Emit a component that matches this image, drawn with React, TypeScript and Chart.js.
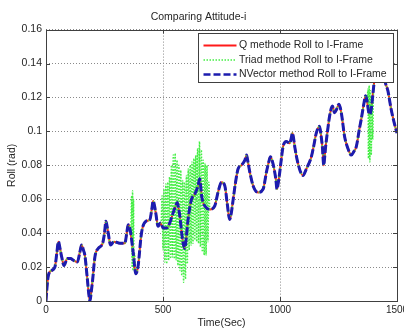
import React, { useEffect, useRef } from 'react';
import { Chart, registerables } from 'chart.js';

Chart.register(...registerables);

const chartTitle = 'Comparing Attitude-i';
const xAxisTitle = 'Time(Sec)';
const yAxisTitle = 'Roll (rad)';
const seriesNames = [
  'Q methode Roll to I-Frame',
  'Triad method Roll to I-Frame',
  'NVector method Roll to I-Frame',
];

const xTicks = [0, 500, 1000, 1500];
const xTickLabels = ['0', '500', '1000', '1500'];
const yTicks = [0, 0.02, 0.04, 0.06, 0.08, 0.1, 0.12, 0.14, 0.16];
const yTickLabels = ['0', '0.02', '0.04', '0.06', '0.08', '0.1', '0.12', '0.14', '0.16'];

// [time (s), roll (rad)] – Q method (NVector overlaps it)
const qMethodPoints: number[][] = [
  [0, 0.0], [3, 0.006], [10, 0.015], [24, 0.018], [38, 0.02], [46, 0.028], [53, 0.035],
  [60, 0.031], [67, 0.026], [77, 0.021], [91, 0.025], [105, 0.025], [117, 0.024], [134, 0.023],
  [145, 0.029], [152, 0.033], [160, 0.03], [166, 0.027], [176, 0.014], [183, 0.004], [188, 0.0],
  [193, 0.005], [199, 0.012], [209, 0.026], [223, 0.031], [242, 0.034], [250, 0.04], [256, 0.047],
  [261, 0.044], [266, 0.04], [276, 0.033], [290, 0.035], [316, 0.034], [337, 0.034], [345, 0.04],
  [351, 0.045], [356, 0.044], [361, 0.041], [373, 0.028], [384, 0.016], [390, 0.018], [394, 0.021],
  [408, 0.04], [427, 0.047], [444, 0.048], [452, 0.054], [458, 0.059], [464, 0.056], [469, 0.052],
  [479, 0.044], [489, 0.046], [501, 0.043], [515, 0.043], [529, 0.046], [541, 0.051], [551, 0.055],
  [561, 0.058], [566, 0.055], [572, 0.05], [580, 0.04], [586, 0.034], [593, 0.031], [600, 0.038],
  [607, 0.048], [622, 0.06], [636, 0.063], [650, 0.068], [657, 0.072], [661, 0.068], [665, 0.062],
  [672, 0.058], [679, 0.056], [700, 0.054], [721, 0.056], [735, 0.064], [750, 0.07], [764, 0.068],
  [774, 0.058], [785, 0.048], [792, 0.052], [800, 0.06], [810, 0.07], [821, 0.078], [835, 0.08],
  [850, 0.083], [857, 0.086], [863, 0.082], [871, 0.076], [885, 0.068], [906, 0.064], [928, 0.066],
  [942, 0.076], [952, 0.082], [959, 0.085], [970, 0.081], [982, 0.072], [987, 0.066], [993, 0.07],
  [999, 0.076], [1006, 0.084], [1013, 0.091], [1027, 0.094], [1041, 0.093], [1048, 0.096],
  [1053, 0.099], [1058, 0.096], [1063, 0.091], [1077, 0.081], [1098, 0.074], [1113, 0.078],
  [1134, 0.085], [1145, 0.092], [1155, 0.099], [1169, 0.103], [1175, 0.098], [1181, 0.091],
  [1187, 0.08], [1191, 0.085], [1195, 0.091], [1203, 0.1], [1212, 0.109], [1224, 0.115],
  [1233, 0.111], [1242, 0.113], [1252, 0.116], [1262, 0.111], [1276, 0.097], [1290, 0.09],
  [1305, 0.086], [1315, 0.088], [1326, 0.091], [1340, 0.102], [1347, 0.107], [1358, 0.116],
  [1366, 0.121], [1372, 0.118], [1378, 0.112], [1383, 0.11], [1390, 0.113], [1397, 0.122],
  [1404, 0.131], [1411, 0.138], [1425, 0.142], [1440, 0.138], [1450, 0.129], [1461, 0.124],
  [1475, 0.113], [1490, 0.104], [1500, 0.099],
];

// NVector method: read as coinciding with the Q method everywhere
const nVectorPoints: number[][] = qMethodPoints;

// Triad method: noisy stretches (elsewhere it follows the Q curve)
const triadNoiseWindows: number[][] = [[362, 378], [492, 700], [1372, 1400]];
const triadNoisePoints: number[][] = [
  [362, 0.04], [366, 0.062], [368, 0.02], [370, 0.065], [372, 0.018], [374, 0.06], [376, 0.022], [378, 0.028],
  [492, 0.046], [496, 0.062], [500, 0.03], [504, 0.066], [508, 0.023], [512, 0.069], [516, 0.022],
  [520, 0.07], [524, 0.024], [528, 0.073], [532, 0.025], [536, 0.08], [540, 0.026], [544, 0.086],
  [548, 0.025], [552, 0.087], [556, 0.024], [560, 0.083], [564, 0.021], [568, 0.08], [572, 0.018],
  [576, 0.077], [580, 0.015], [584, 0.071], [588, 0.011], [592, 0.07], [596, 0.013], [600, 0.074],
  [604, 0.022], [608, 0.078], [612, 0.03], [616, 0.08], [620, 0.033], [624, 0.082], [628, 0.034],
  [632, 0.084], [636, 0.036], [640, 0.086], [644, 0.035], [648, 0.09], [652, 0.034], [656, 0.094],
  [660, 0.032], [664, 0.089], [668, 0.029], [672, 0.083], [676, 0.027], [680, 0.081], [684, 0.027],
  [688, 0.08], [692, 0.035], [696, 0.07], [700, 0.054],
  [1372, 0.118], [1376, 0.125], [1378, 0.084], [1381, 0.127], [1384, 0.082], [1387, 0.124],
  [1390, 0.086], [1393, 0.12], [1396, 0.095], [1400, 0.126],
];

const seriesColors = ['#ff1a1a', '#44ee44', '#1c1cae'];
const FONT = '"Liberation Sans", Arial, Helvetica, sans-serif';

function toXY(points: number[][]) {
  return points.map(([x, y]) => ({ x, y }));
}

function buildTriad() {
  const inWindow = (t: number) => triadNoiseWindows.some(([a, b]) => t >= a && t <= b);
  const base = qMethodPoints.filter(([t]) => !inWindow(t));
  return [...base, ...triadNoisePoints].sort((a, b) => a[0] - b[0]);
}

const framePlugin = {
  id: 'matlabFrame',
  afterDatasetsDraw(chart: any) {
    const { ctx, chartArea } = chart;
    const { left, right, top, bottom } = chartArea;
    const xs = chart.scales.x;
    const ys = chart.scales.y;
    ctx.save();
    ctx.strokeStyle = '#404040';
    ctx.lineWidth = 1;
    ctx.setLineDash([]);
    ctx.strokeRect(Math.round(left) + 0.5, Math.round(top) + 0.5, Math.round(right - left), Math.round(bottom - top));
    const tl = 4;
    ctx.beginPath();
    xTicks.forEach((v) => {
      const px = Math.round(xs.getPixelForValue(v)) + 0.5;
      ctx.moveTo(px, bottom);
      ctx.lineTo(px, bottom - tl);
      ctx.moveTo(px, top);
      ctx.lineTo(px, top + tl);
    });
    yTicks.forEach((v) => {
      const py = Math.round(ys.getPixelForValue(v)) + 0.5;
      ctx.moveTo(left, py);
      ctx.lineTo(left + tl, py);
      ctx.moveTo(right, py);
      ctx.lineTo(right - tl, py);
    });
    ctx.stroke();

    // legend box
    const bx = Math.round(left + 152) + 0.5;
    const by = Math.round(top + 3) + 0.5;
    const bw = 195;
    const bh = 49;
    ctx.fillStyle = '#ffffff';
    ctx.fillRect(bx, by, bw, bh);
    ctx.strokeStyle = '#404040';
    ctx.strokeRect(bx, by, bw, bh);
    const rows = [12, 26.5, 41];
    const dashes = [[], [1.5, 1.5], [7, 3]];
    const widths = [2, 1.5, 2.5];
    ctx.font = `10.5px ${FONT}`;
    ctx.textBaseline = 'middle';
    ctx.textAlign = 'left';
    seriesNames.forEach((name, i) => {
      const y = by + rows[i];
      ctx.beginPath();
      ctx.setLineDash(dashes[i]);
      ctx.lineWidth = widths[i];
      ctx.strokeStyle = seriesColors[i];
      ctx.moveTo(bx + 5, y);
      ctx.lineTo(bx + 38, y);
      ctx.stroke();
      ctx.setLineDash([]);
      ctx.fillStyle = '#262626';
      ctx.fillText(name, bx + 40.5, y);
    });
    ctx.restore();
  },
};

export default function App() {
  const canvasRef = useRef<HTMLCanvasElement | null>(null);

  useEffect(() => {
    const canvas = canvasRef.current;
    if (!canvas) return;
    const chart = new Chart(canvas, {
      type: 'line',
      data: {
        datasets: [
          {
            label: seriesNames[0],
            data: toXY(qMethodPoints),
            borderColor: seriesColors[0],
            borderWidth: 2,
            pointRadius: 0,
            cubicInterpolationMode: 'monotone',
            order: 3,
          },
          {
            label: seriesNames[1],
            data: toXY(buildTriad()),
            borderColor: seriesColors[1],
            borderWidth: 1.5,
            borderDash: [1.5, 1.5],
            pointRadius: 0,
            cubicInterpolationMode: 'monotone',
            order: 2,
          },
          {
            label: seriesNames[2],
            data: toXY(nVectorPoints),
            borderColor: seriesColors[2],
            borderWidth: 3,
            borderDash: [8, 2.5],
            pointRadius: 0,
            cubicInterpolationMode: 'monotone',
            order: 1,
          },
        ],
      },
      options: {
        responsive: false,
        animation: false,
        events: [],
        layout: { padding: { left: 0, right: 7, top: 0, bottom: 0 } },
        plugins: {
          legend: { display: false },
          tooltip: { enabled: false },
          title: {
            display: true,
            text: chartTitle,
            color: '#262626',
            font: { family: FONT, size: 10.5, weight: 'normal', lineHeight: 1.2 },
            padding: { top: 11, bottom: 6 },
          },
        },
        scales: {
          x: {
            type: 'linear',
            min: 0,
            max: 1500,
            afterBuildTicks: (scale: any) => {
              scale.ticks = xTicks.map((v) => ({ value: v }));
            },
            afterFit: (scale: any) => {
              scale.height = 28;
              scale.paddingLeft = 0;
              scale.paddingRight = 0;
            },
            ticks: {
              callback: (_v: any, i: number) => xTickLabels[i],
              color: '#262626',
              font: { family: FONT, size: 10 },
              padding: 3,
              maxRotation: 0,
              autoSkip: false,
            },
            grid: { color: '#8a8a8a', lineWidth: 1, drawTicks: false },
            border: { display: false, dash: [1, 2] },
            title: {
              display: true,
              text: xAxisTitle,
              color: '#262626',
              font: { family: FONT, size: 10.5, lineHeight: 1.2 },
              padding: { top: 0, bottom: 0 },
            },
          },
          y: {
            type: 'linear',
            min: 0,
            max: 0.16,
            afterBuildTicks: (scale: any) => {
              scale.ticks = yTicks.map((v) => ({ value: v }));
            },
            afterFit: (scale: any) => {
              scale.width = 46;
              scale.paddingTop = 0;
              scale.paddingBottom = 0;
            },
            ticks: {
              callback: (_v: any, i: number) => yTickLabels[i],
              color: '#262626',
              font: { family: FONT, size: 10.5 },
              padding: 4,
              autoSkip: false,
            },
            grid: { color: '#8a8a8a', lineWidth: 1, drawTicks: false },
            border: { display: false, dash: [1, 2] },
            title: {
              display: true,
              text: yAxisTitle,
              color: '#262626',
              font: { family: FONT, size: 10.5, lineHeight: 1.2 },
              padding: { top: 6, bottom: 0 },
            },
          },
        },
      },
      plugins: [framePlugin],
    } as any);
    return () => chart.destroy();
  }, []);

  return (
    <div style={{ position: 'fixed', left: 0, top: 0, width: 404, height: 329, background: '#ffffff' }}>
      <canvas ref={canvasRef} width={404} height={329} style={{ display: 'block', width: 404, height: 329 }} />
    </div>
  );
}
